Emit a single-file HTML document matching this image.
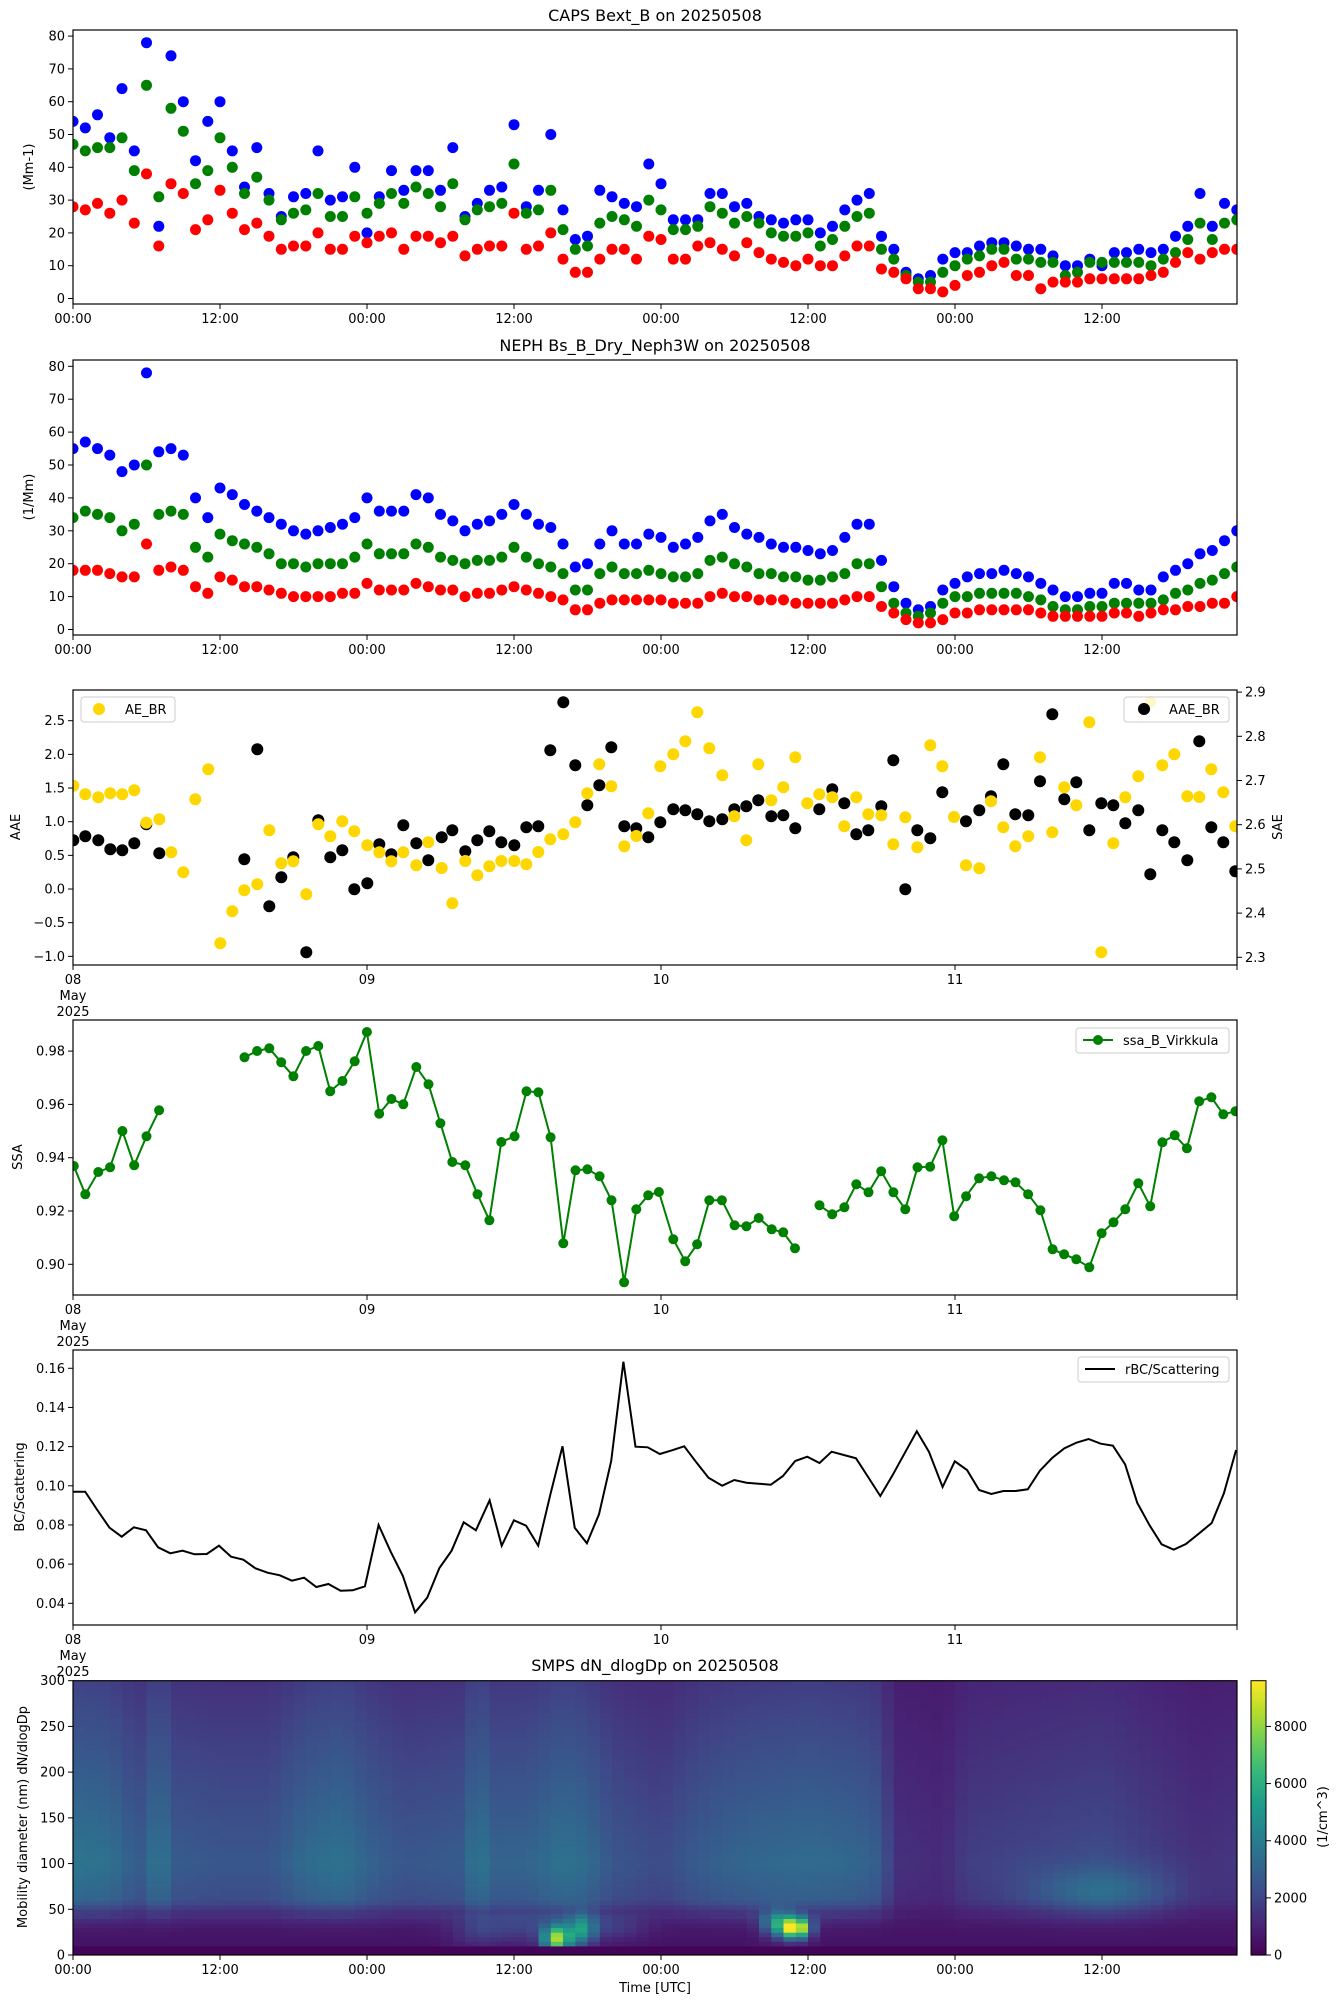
<!DOCTYPE html>
<html><head><meta charset="utf-8"><style>
html,body{margin:0;padding:0;background:#fff;}
svg{display:block;font-family:"DejaVu Sans","Liberation Sans",sans-serif;}
</style></head><body>
<svg id="s" width="1341" height="2008" viewBox="0 0 1341 2008" xmlns="http://www.w3.org/2000/svg"></svg>
<script>
const S=document.getElementById('s');let out='';
const L=73,R=1237,W=R-L;
const X=t=>L+t*12.25;
function c(x,y,r,f){out+=`<circle cx="${x.toFixed(1)}" cy="${y.toFixed(1)}" r="${r}" fill="${f}"/>`;}
function txt(x,y,s,o){o=o||{};out+=`<text x="${x}" y="${y}" font-size="${o.fs||13}" text-anchor="${o.a||'middle'}"${o.rot?` transform="rotate(-90 ${x} ${y})"`:''} fill="#000">${s}</text>`;}
function box(t,b,id){out+=`<clipPath id="${id}"><rect x="${L}" y="${t}" width="${W}" height="${b-t}"/></clipPath>`;}
function frame(t,b){out+=`<rect x="${L}" y="${t}" width="${W}" height="${b-t}" fill="none" stroke="#000" stroke-width="1.2"/>`;}
function yt(y,lab,x0){x0=x0||L;out+=`<line x1="${x0-5}" y1="${y}" x2="${x0}" y2="${y}" stroke="#000"/>`;txt(x0-8,y+4.5,lab,{a:'end'});}
function ytR(y,lab){out+=`<line x1="${R}" y1="${y}" x2="${R+5}" y2="${y}" stroke="#000"/>`;txt(R+8,y+4.5,lab,{a:'start'});}
function xtHours(b){for(let i=0;i<8;i++){let x=X(i*12);out+=`<line x1="${x}" y1="${b}" x2="${x}" y2="${b+5}" stroke="#000"/>`;txt(x,b+19,i%2?'12:00':'00:00');}}
function xtDays(b){['08','09','10','11'].forEach((d,i)=>{let x=X(i*24);out+=`<line x1="${x}" y1="${b}" x2="${x}" y2="${b+5}" stroke="#000"/>`;txt(x,b+19,d);});
 out+=`<line x1="${R}" y1="${b}" x2="${R}" y2="${b+5}" stroke="#000"/>`;txt(X(0),b+35,'May');txt(X(0),b+51,'2025');}

// Panel 1
const b1=[54,52,56,49,64,45,78,22,74,60,42,54,60,45,34,46,32,25,31,32,45,30,31,40,20,31,39,33,39,39,33,46,25,29,33,34,53,28,33,50,27,18,19,33,31,29,28,41,35,24,24,24,32,32,28,29,25,24,23,24,24,20,22,27,30,32,19,15,8,6,7,12,14,14,16,17,17,16,15,15,13,10,10,12,10,14,14,15,14,15,19,22,32,22,29,27];
const g1=[47,45,46,46,49,39,65,31,58,51,35,39,49,40,32,37,30,24,26,27,32,25,25,31,26,29,32,29,34,32,28,35,24,27,28,29,41,26,27,33,21,15,16,23,25,24,22,30,27,21,21,22,28,26,23,25,23,20,19,19,20,16,18,22,25,26,15,12,7,5,5,8,10,12,13,15,15,12,12,11,11,7,8,11,11,11,11,11,10,12,14,18,23,18,23,24];
const r1=[28,27,29,26,30,23,38,16,35,32,21,24,33,26,21,23,19,15,16,16,20,15,15,19,17,19,20,15,19,19,17,19,13,15,16,16,26,15,16,20,12,8,8,12,15,15,12,19,18,12,12,16,17,15,13,17,14,12,11,10,12,10,10,13,16,16,9,8,6,3,3,2,4,7,8,10,11,7,7,3,5,5,5,6,6,6,6,6,7,8,11,14,12,14,15,15];
box(30,304,'c1');out+='<g clip-path="url(#c1)">';
[[b1,'#0000ff'],[g1,'#008000'],[r1,'#ff0000']].forEach(([a,col])=>a.forEach((v,i)=>c(X(i),298.5-3.28*v,5.5,col)));
out+='</g>';frame(30,304);
for(let v=0;v<=80;v+=10)yt(298.5-3.28*v,v);xtHours(304);
txt((L+R)/2,21,'CAPS Bext_B on 20250508',{fs:16});txt(33,167,'(Mm-1)',{rot:1});

// Panel 2
const b2=[55,57,55,53,48,50,78,54,55,53,40,34,43,41,38,36,34,32,30,29,30,31,32,34,40,36,36,36,41,40,35,33,30,32,33,35,38,35,32,31,26,19,20,26,30,26,26,29,28,25,26,28,33,35,31,29,28,26,25,25,24,23,24,28,32,32,21,13,8,6,7,12,14,16,17,17,18,17,16,14,12,10,10,11,11,14,14,12,12,16,18,20,23,24,27,30];
const g2=[34,36,35,34,30,32,50,35,36,35,25,22,29,27,26,25,23,20,20,19,20,20,20,22,26,23,23,23,26,25,22,21,20,21,21,22,25,22,20,19,17,12,12,17,19,17,17,18,17,16,16,17,21,22,20,19,17,17,16,16,15,15,16,17,20,20,13,8,5,4,5,8,10,10,11,11,11,11,10,9,7,6,6,7,7,8,8,8,8,9,11,12,14,15,17,19];
const r2=[18,18,18,17,16,16,26,18,19,18,13,11,16,15,13,13,12,11,10,10,10,10,11,11,14,12,12,12,14,13,12,12,10,11,11,12,13,12,11,10,9,6,6,8,9,9,9,9,9,8,8,8,10,11,10,10,9,9,9,8,8,8,8,9,10,10,7,5,3,2,2,3,5,5,6,6,6,6,6,5,4,4,4,4,4,5,5,4,5,6,6,7,7,8,8,10];
box(360,635,'c2');out+='<g clip-path="url(#c2)">';
[[b2,'#0000ff'],[g2,'#008000'],[r2,'#ff0000']].forEach(([a,col])=>a.forEach((v,i)=>c(X(i),629.5-3.29*v,5.5,col)));
out+='</g>';frame(360,635);
for(let v=0;v<=80;v+=10)yt(629.5-3.29*v,v);xtHours(635);
txt((L+R)/2,351,'NEPH Bs_B_Dry_Neph3W on 20250508',{fs:16});txt(33,497,'(1/Mm)',{rot:1});

// Panel 3
let Y=[],K=[];
[[220,317],[256,343],[295,352],[331,340],[367,343],[403,331],[439,428],[478,418],[514,517],[550,577],[586,358],[625,268],[661,790],[697,694],[733,631],[772,613],[808,451],[844,550],[880,544],[919,643],[955,433],[991,469],[1027,424],[1063,454],[1102,496],[1138,517],[1174,544],[1210,517],[1249,556],[1285,487]].forEach(p=>Y.push([p[0]/3,680+p[1]/3]));
[[220,481],[256,469],[295,481],[331,508],[367,511],[403,490],[439,433],[478,520],[733,538],[772,208],[808,679],[844,592],[880,532],[919,817],[955,421],[991,532],[1027,511],[1063,628],[1102,610],[1138,493],[1174,523],[1210,436],[1249,490],[1285,541]].forEach(p=>K.push([p[0]/3,680+p[1]/3]));
[[5,549],[37,655],[76,528],[112,571],[148,544],[184,528],[223,528],[259,538],[295,501],[331,463],[370,448],[406,412],[442,325],[478,238],[514,304],[553,484],[589,453],[625,385],[661,244],[700,208],[736,169],[772,82],[808,190],[847,271],[883,394],[919,466],[955,238],[994,346],[1030,307],[1066,217],[1102,355],[1138,328],[1177,337],[1213,424],[1249,337],[1285,388],[1324,391],[1360,478],[1396,397],[1432,487],[1471,181],[1507,244]].forEach(p=>Y.push([440+p[0]/3,685+p[1]/3]));
[[5,457],[37,436],[76,499],[112,466],[148,439],[184,472],[223,481],[259,427],[295,424],[331,196],[370,52],[406,241],[442,361],[478,301],[514,187],[553,424],[589,430],[625,457],[661,412],[700,373],[736,376],[772,388],[808,409],[847,403],[883,373],[919,364],[955,346],[994,394],[1030,391],[1066,430],[1138,373],[1177,313],[1213,355],[1249,448],[1285,436],[1324,364],[1360,226],[1396,613],[1432,436],[1471,460],[1507,322]].forEach(p=>K.push([440+p[0]/3,685+p[1]/3]));
[[12,411],[48,556],[88,565],[123,364],[160,442],[196,499],[235,469],[270,232],[307,457],[343,322],[379,376],[418,127],[454,817],[490,490],[526,352],[565,289],[601,67],[637,256],[673,223],[712,349],[748,351],[784,268],[820,337],[856,439]].forEach(p=>Y.push([950+p[0]/3,680+p[1]/3]));
[[48,424],[88,391],[123,349],[160,253],[196,403],[235,406],[270,304],[307,103],[343,358],[379,307],[418,451],[454,370],[490,376],[526,430],[565,391],[583,86],[601,583],[637,451],[673,487],[712,541],[748,184],[784,442],[820,487],[856,574]].forEach(p=>K.push([950+p[0]/3,680+p[1]/3]));
box(690,965,'c3');out+='<g clip-path="url(#c3)">';
K.forEach(p=>c(p[0],p[1],6,'#000'));Y.forEach(p=>c(p[0],p[1],6,'#ffd700'));
out+='</g>';frame(690,965);
for(let i=0;i<8;i++){let v=-1+i*0.5;yt(720.7+(2.5-v)*67.33,v<0?'\u2212'+Math.abs(v).toFixed(1):v.toFixed(1));}
for(let i=0;i<7;i++){let v=2.3+i*0.1;ytR(957.3-(v-2.3)*442,v.toFixed(1));}
xtDays(965);txt(20,827,'AAE',{rot:1});txt(1282,827,'SAE',{rot:1});
function leg(x1,y1,x2,y2){out+=`<rect x="${x1}" y="${y1}" width="${x2-x1}" height="${y2-y1}" rx="3" fill="#fff" fill-opacity="0.8" stroke="#ccc"/>`;}
leg(81,697,175,722);c(99,709,6,'#ffd700');txt(125,714,'AE_BR',{a:'start'});
leg(1124,697,1229,722);c(1144,709,6,'#000');txt(1169,714,'AAE_BR',{a:'start'});

// Panel 4
const seg=[[[36,453],[66,538],[100,471],[131,457],[163,348],[194,451],[226,364],[259,286]].map(p=>[60+p[0]/2.613,1015+p[1]/3]),
[[482,127],[515,108],[547,100],[578,142],[610,184],[643,108],[675,93],[706,229],[738,198],[770,139],[802,51],[834,296],[866,252],[897,268],[931,156],[963,208],[994,325],[1025,441],[1059,451],[1091,538],[1122,616],[1153,381],[1188,364],[1219,229],[1250,232],[1282,367],[1315,685],[1347,466],[1378,463],[1410,484],[1441,556],[1474,802],[1506,583],[1537,541],[1565,531]].map(p=>[60+p[0]/2.613,1015+p[1]/3]).concat(
[[61,673],[92,739],[123,688],[155,556],[188,556],[221,631],[252,634],[284,609],[318,643],[348,652],[379,700]].map(p=>[650+p[0]/2.613,1015+p[1]/3])),
[[443,571],[476,598],[508,577],[539,508],[571,532],[604,469],[636,532],[667,583],[699,457],[732,455],[764,376],[795,604],[826,544],[860,490],[892,484],[925,496],[955,502],[988,538],[1020,586],[1052,703],[1082,718],[1114,733],[1148,757],[1180,655],[1211,622],[1242,583],[1276,505],[1307,574],[1339,382],[1371,361],[1403,400],[1435,259],[1467,247],[1498,298],[1530,289]].map(p=>[650+p[0]/2.613,1015+p[1]/3])];
box(1020,1295,'c4');out+='<g clip-path="url(#c4)">';
seg.forEach(s=>{out+=`<polyline points="${s.map(p=>p[0].toFixed(1)+','+p[1].toFixed(1)).join(' ')}" fill="none" stroke="#008000" stroke-width="2"/>`;s.forEach(p=>c(p[0],p[1],5,'#008000'));});
out+='</g>';frame(1020,1295);
for(let i=0;i<5;i++){let v=0.90+i*0.02;yt(1264.3-i*53.3,v.toFixed(2));}
xtDays(1295);txt(22,1157,'SSA',{rot:1});
leg(1076,1028,1229,1053);out+=`<line x1="1083" y1="1040" x2="1113" y2="1040" stroke="#008000" stroke-width="2"/>`;c(1098,1040,5,'#008000');txt(1123,1045,'ssa_B_Virkkula',{a:'start'});

// Panel 5
const bc=[[18,455],[34,455],[50,510],[66,563],[82,590],[98,562],[114,571],[130,622],[146,640],[162,632],[178,643],[194,642],[210,617],[226,650],[242,659],[258,685],[274,698],[290,706],[306,722],[322,713],[338,741],[354,732],[370,752],[386,751],[402,739],[420,555],[436,635],[452,708],[468,817],[484,773],[500,684],[516,632],[532,547],[548,571],[566,481],[582,617],[598,541],[614,557],[630,617],[646,463],[662,319],[678,563],[694,610],[710,523],[726,363],[742,65],[758,320],[774,322],[790,342],[806,331],[822,319],[838,367],[854,413],[872,437],[888,420],[904,428],[920,431],[936,434],[952,408],[968,363],[984,350],[1000,369],[1016,335],[1032,345],[1048,355],[1064,411],[1080,468],[1096,406],[1112,340],[1128,274],[1144,335],[1162,441],[1178,364],[1194,390],[1210,450],[1226,462],[1242,453],[1258,453],[1274,448],[1290,392],[1306,354],[1322,325],[1338,308],[1354,297],[1370,311],[1386,317],[1402,373],[1418,488],[1434,555],[1450,613],[1466,629],[1482,612],[1498,583],[1516,549],[1532,460],[1548,330]].map(p=>[L+(p[0]-18)/1.3155,1340+p[1]/3]);
box(1350,1625,'c5');out+=`<g clip-path="url(#c5)"><polyline points="${bc.map(p=>p[0].toFixed(1)+','+p[1].toFixed(1)).join(' ')}" fill="none" stroke="#000" stroke-width="2"/></g>`;frame(1350,1625);
for(let i=0;i<7;i++){let v=0.04+i*0.02;yt(1603.3-i*39.17,v.toFixed(2));}
xtDays(1625);txt(24,1487,'BC/Scattering',{rot:1});
leg(1078,1357,1229,1382);out+=`<line x1="1085" y1="1369" x2="1115" y2="1369" stroke="#000" stroke-width="2"/>`;txt(1125,1374,'rBC/Scattering',{a:'start'});

// Panel 6 heatmap
const VS=[[68,1,84],[72,36,118],[62,74,137],[49,104,142],[38,130,142],[31,158,137],[53,183,121],[109,205,89],[180,222,44],[253,231,37]];
function vir(u){u=Math.max(0,Math.min(1,u))*9;let i=Math.min(8,Math.floor(u)),f=u-i;let a=VS[i],b=VS[i+1];return `rgb(${Math.round(a[0]+(b[0]-a[0])*f)},${Math.round(a[1]+(b[1]-a[1])*f)},${Math.round(a[2]+(b[2]-a[2])*f)})`;}
function Bt(t){
 const k=[[0,.34],[3,.32],[5,.25],[6,.24],[7,.38],[8,.24],[12,.22],[16,.22],[19,.30],[22,.33],[24,.27],[27,.22],[32,.24],[33,.38],[34,.27],[37,.27],[40,.33],[42,.30],[44,.22],[48,.18],[51,.24],[55,.28],[60,.30],[64,.28],[66,.24],[67,.10],[71,.08],[73,.14],[78,.16],[84,.18],[88,.14],[92,.10],[96,.12]];
 for(let i=0;i<k.length-1;i++)if(t<=k[i+1][0]){let f=(t-k[i][0])/(k[i+1][0]-k[i][0]);return k[i][1]+(k[i+1][1]-k[i][1])*f;}return .12;}
function G(t,d,t0,d0,st,sd,a){return a*Math.exp(-((t-t0)**2)/(2*st*st)-((d-d0)**2)/(2*sd*sd));}
function I(t,d){
 let b=Bt(t),s;
 if(d<100)s=0.75+0.25*(d-45)/55;else s=1-0.55*(d-100)/200;
 let v=0.05+b*s;
 if(d<45){let f=Math.max(0,(d-12)/33);v=0.06+(v-0.06)*Math.pow(f,2.5)*0.6;if(d<10)v=0.0;}
 else if(d<60){let f=(d-45)/15;v=0.06+(v-0.06)*(0.4+0.6*f);}
 v+=G(t,d,84,70,4,18,0.16);
 v+=G(t,d,39.5,18,0.8,10,0.75)+G(t,d,41.5,28,0.8,12,0.4)+G(t,d,59,30,0.8,8,0.95)+G(t,d,57.5,35,0.9,10,0.4)+G(t,d,37,30,3,12,0.12)+G(t,d,44,30,2,10,0.1)+G(t,d,33,25,1.5,12,0.08);
 if(d<10)v=0.01;
 return v;}
const ht=1680.7,hb=1955,dh=(hb-ht)/60;
box(ht,hb,'c6');out+='<g clip-path="url(#c6)">';
for(let j=0;j<60;j++){let d=j*5+2.5;for(let i=0;i<96;i++){out+=`<rect x="${(X(i)).toFixed(1)}" y="${(hb-(j+1)*dh).toFixed(1)}" width="12.8" height="${(dh+0.5).toFixed(1)}" fill="${vir(I(i+0.5,d))}"/>`;}}
out+='</g>';
frame(ht,hb);
for(let v=0;v<=300;v+=50)yt(hb-v*(hb-ht)/300,v);xtHours(hb);
txt((L+R)/2,1671,'SMPS dN_dlogDp on 20250508',{fs:16});txt(27,1817,'Mobility diameter (nm) dN/dlogDp',{rot:1});txt((L+R)/2,1992,'Time [UTC]');
// colorbar
for(let k=0;k<100;k++){let y0=hb-(k+1)*(hb-ht)/100;out+=`<rect x="1251" y="${y0.toFixed(1)}" width="15" height="${((hb-ht)/100+0.6).toFixed(1)}" fill="${vir((k+0.5)/100)}"/>`;}
out+=`<rect x="1251" y="${ht}" width="15" height="${hb-ht}" fill="none" stroke="#000"/>`;
for(let v=0;v<=8000;v+=2000){let y=hb-v*(hb-ht)/9600;out+=`<line x1="1266" y1="${y}" x2="1271" y2="${y}" stroke="#000"/>`;txt(1274,y+4.5,v,{a:'start'});}
txt(1327,1817,'(1/cm^3)',{rot:1});
S.innerHTML=out;
</script>
</body></html>
